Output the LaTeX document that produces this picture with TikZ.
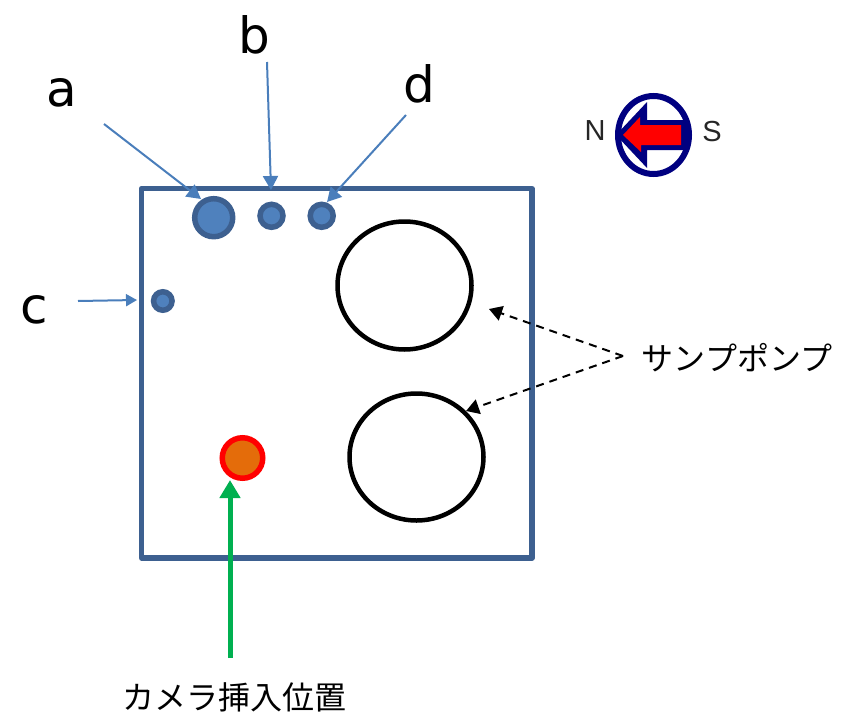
\documentclass[tikz,border=0pt]{standalone}
\usepackage{fontspec}
\setmainfont{DejaVu Sans}
\newfontfamily\cjkfont{Noto Sans CJK JP}
\newfontfamily\arialfont{Liberation Sans}
\usetikzlibrary{arrows.meta,shapes.geometric}
\definecolor{boxblue}{RGB}{61,96,144}
\definecolor{portblue}{RGB}{79,129,189}
\definecolor{arrowblue}{RGB}{74,126,187}
\definecolor{navyc}{RGB}{0,0,128}
\definecolor{greenc}{RGB}{0,176,80}
\definecolor{orangec}{RGB}{228,108,10}
\tikzset{
  x=1pt,y=-1pt,
  boxline/.style={draw=boxblue,line width=5.2pt,line join=round},
  port/.style={circle,draw=boxblue,fill=portblue,line width=5.5pt,inner sep=0pt},
  pump/.style={ellipse,draw=black,line width=4.5pt,inner sep=0pt,fill=none},
  bluearrow/.style={draw=arrowblue,line width=2pt,-{Triangle[length=14pt,width=15pt,fill=arrowblue]}},
  dasharrow/.style={draw=black,line width=2pt,dash pattern=on 8pt off 6pt,-{Triangle[length=13pt,width=15pt,fill=black]}},
  letter/.style={font=\fontsize{50}{50}\selectfont,text=black,inner sep=0pt},
  jp/.style={font=\cjkfont\fontsize{32}{32}\selectfont,text=black,inner sep=0pt},
  compasstext/.style={font=\arialfont\fontsize{29}{29}\selectfont,text=black!85,inner sep=0pt},
}
\begin{document}
\begin{tikzpicture}
\useasboundingbox (0,0) rectangle (843,712);
% frame
\draw[boxline] (141.5,188.5) rectangle (532,558);
% ports
\node[port,minimum size=38pt] (pa) at (213.7,217.7) {};
\node[port,minimum size=23pt] (pb) at (271.5,215.8) {};
\node[port,minimum size=23pt] (pd) at (321.7,215.8) {};
\node[port,minimum size=18.5pt] (pc) at (162.8,301) {};
% pumps
\node[pump,minimum width=134pt,minimum height=128pt] (pump1) at (404.5,285.5) {};
\node[pump,minimum width=134pt,minimum height=127pt] (pump2) at (416.5,457) {};
% camera
\node[circle,draw=red,fill=orangec,line width=5.5pt,inner sep=0pt,minimum size=40.5pt] (cam) at (242.5,458) {};
% labels
\node[letter] (la) at (62,93) {a};
\node[letter] (lb) at (254,35) {b};
\node[letter] (ld) at (419,84) {d};
\node[letter] (lc) at (34,310) {c};
\node[jp] (lpump) at (737,358) {サンプポンプ};
\node[jp] (lcam) at (234,697) {カメラ挿入位置};
% connector ends
\coordinate (a0) at (104,124);
\coordinate (a1) at (201,199);
\coordinate (b0) at (267,62);
\coordinate (b1) at (271,190);
\coordinate (d0) at (406,115);
\coordinate (d1) at (327,202);
\coordinate (c0) at (78,301);
\coordinate (c1) at (137,300);
\coordinate (s0) at (623,356);
\coordinate (s1) at (489,309);
\coordinate (s2) at (466,411);
\coordinate (k0) at (230,658);
\coordinate (k1) at (230,480);
\draw[bluearrow] (a0) -- (a1);
\draw[bluearrow] (b0) -- (b1);
\draw[bluearrow] (d0) -- (d1);
\draw[draw=arrowblue,line width=2pt,-{Triangle[length=11pt,width=12pt,fill=arrowblue]}] (c0) -- (c1);
\draw[dasharrow] (s0) -- (s1);
\draw[dasharrow] (s0) -- (s2);
\draw[draw=greenc,line width=5pt,-{Triangle[length=18pt,width=20pt,fill=greenc]}] (k0) -- (k1);
% compass
\node[ellipse,draw=navyc,line width=6pt,fill=white,inner sep=0pt,minimum width=71pt,minimum height=78pt] (comp) at (653.5,135) {};
\fill[navyc] (616,135) -- (647,102) -- (647,120) -- (689,120) -- (689,150) -- (647,150) -- (647,168) -- cycle;
\fill[red] (623,135) -- (640,117) -- (640,125) -- (681,125) -- (681,145) -- (641,145) -- (641,152) -- cycle;
\node[compasstext] (ln) at (595,131) {N};
\node[compasstext] (ls) at (712,132) {S};
\end{tikzpicture}
\end{document}
